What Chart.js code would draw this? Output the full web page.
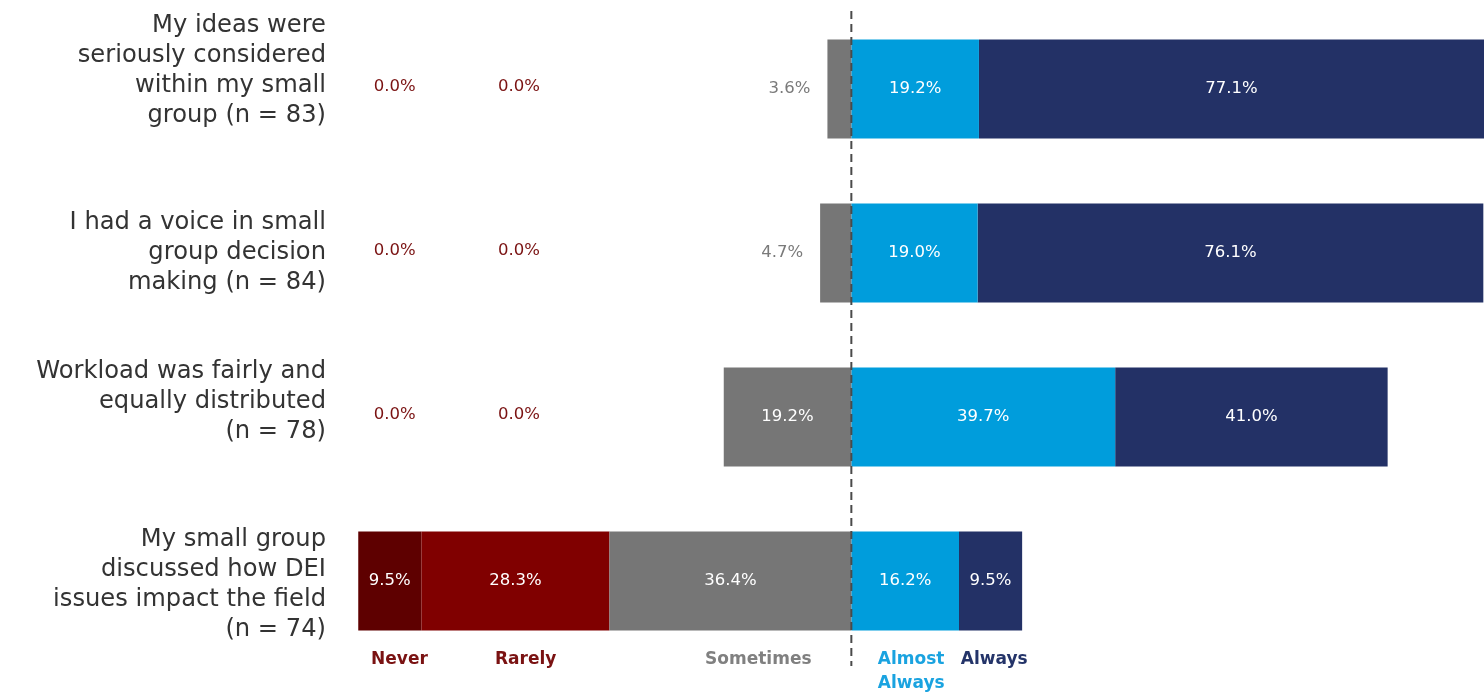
<!DOCTYPE html>
<html>
<head>
<meta charset="utf-8">
<script src="https://cdn.jsdelivr.net/npm/chart.js@4.4.1/dist/chart.umd.min.js"></script>
<style>
  html, body { margin: 0; padding: 0; background: #fff; }
</style>
</head>
<body>
<canvas id="groupChart" width="1484" height="694"></canvas>
<script>
// survey items (one row each) and the share of answers per response
const questions = [
  ['My ideas were', 'seriously considered', 'within my small', 'group (n = 83)'],
  ['I had a voice in small', 'group decision', 'making (n = 84)'],
  ['Workload was fairly and', 'equally distributed', '(n = 78)'],
  ['My small group', 'discussed how DEI', 'issues impact the field', '(n = 74)']
];
const responses = ['Never', 'Rarely', 'Sometimes', 'Almost Always', 'Always'];
const never = [0.0, 0.0, 0.0, 9.5];
const rarely = [0.0, 0.0, 0.0, 28.3];
const sometimes = [3.6, 4.7, 19.2, 36.4];
const almostAlways = [19.2, 19.0, 39.7, 16.2];
const always = [77.1, 76.1, 41.0, 9.5];

const colors = {
  'Never': '#5e0000',
  'Rarely': '#800000',
  'Sometimes': '#767676',
  'Almost Always': '#009ddc',
  'Always': '#233166'
};
const legendColors = {
  'Never': '#7a1212',
  'Rarely': '#7a1212',
  'Sometimes': '#808080',
  'Almost Always': '#1aa3e0',
  'Always': '#243469'
};

const FONT = '"DejaVu Sans", sans-serif';

// negative side stacks outward from zero: Sometimes, then Rarely, then Never
function ds(name, values, sign) {
  return {
    label: name,
    data: values.map(v => sign * v),
    backgroundColor: colors[name],
    borderWidth: 0,
    barPercentage: 0.604,
    categoryPercentage: 1
  };
}

const labelPlugin = {
  id: 'divergingLabels',
  afterDatasetsDraw(chart) {
    const ctx = chart.ctx;
    const x = chart.scales.x;
    const area = chart.chartArea;
    const zeroX = x.getPixelForValue(0);

    // value labels on the segments
    ctx.save();
    ctx.font = '16.5px ' + FONT;
    ctx.textBaseline = 'middle';
    chart.data.datasets.forEach((d, di) => {
      const meta = chart.getDatasetMeta(di);
      meta.data.forEach((bar, i) => {
        const v = Math.abs(d.data[i]);
        const txt = v.toFixed(1) + '%';
        if (v === 0) {
          // empty response columns get a red 0.0% at a fixed column
          const col = d.label === 'Never' ? -68.7 : -50;
          ctx.fillStyle = '#7a1212';
          ctx.textAlign = 'center';
          ctx.fillText(txt, x.getPixelForValue(col), bar.y - 2);
        } else if (v < 6) {
          ctx.fillStyle = '#7a7a7a';
          ctx.textAlign = 'center';
          ctx.fillText(txt, Math.min(bar.x, bar.base) - 38, bar.y);
        } else {
          const l = Math.max(Math.min(bar.x, bar.base), area.left);
          const r = Math.min(Math.max(bar.x, bar.base), area.right);
          ctx.fillStyle = '#ffffff';
          ctx.textAlign = 'center';
          ctx.fillText(txt, (l + r) / 2, bar.y);
        }
      });
    });
    ctx.restore();

    // dashed zero line
    ctx.save();
    ctx.strokeStyle = '#4a4a4a';
    ctx.lineWidth = 2;
    ctx.setLineDash([8, 5]);
    ctx.beginPath();
    ctx.moveTo(zeroX, 11);
    ctx.lineTo(zeroX, 666);
    ctx.stroke();
    ctx.restore();

    // question labels, right aligned beside the bars
    const nudge = [-18, 0, -15, 4];
    const yScale = chart.scales.y;
    ctx.save();
    ctx.font = '24.2px ' + FONT;
    ctx.fillStyle = '#333333';
    ctx.textAlign = 'right';
    ctx.textBaseline = 'middle';
    questions.forEach((lines, i) => {
      const cy = yScale.getPixelForValue(i) + nudge[i];
      const top = cy - (lines.length - 1) * 30 / 2;
      lines.forEach((ln, j) => ctx.fillText(ln, 326, top + j * 30));
    });
    ctx.restore();

    // response names under the columns
    const legendAt = { 'Never': -68, 'Rarely': -49, 'Sometimes': -14, 'Almost Always': 9, 'Always': 21.5 };
    ctx.save();
    ctx.font = 'bold 17px ' + FONT;
    ctx.textAlign = 'center';
    ctx.textBaseline = 'middle';
    responses.forEach(name => {
      ctx.fillStyle = legendColors[name];
      const px = x.getPixelForValue(legendAt[name]);
      const parts = name === 'Almost Always' ? ['Almost', 'Always'] : [name];
      parts.forEach((p, j) => ctx.fillText(p, px, 660 + j * 24));
    });
    ctx.restore();
  }
};

new Chart(document.getElementById('groupChart').getContext('2d'), {
  type: 'bar',
  data: {
    labels: questions.map(q => q.join(' ')),
    datasets: [
      ds('Sometimes', sometimes, -1),
      ds('Rarely', rarely, -1),
      ds('Never', never, -1),
      ds('Almost Always', almostAlways, 1),
      ds('Always', always, 1)
    ]
  },
  options: {
    indexAxis: 'y',
    responsive: false,
    animation: false,
    layout: { padding: { left: 333, right: 0, top: 7, bottom: 31 } },
    scales: {
      x: { stacked: true, min: -78, max: 95.2, display: false },
      y: { stacked: true, display: false }
    },
    plugins: {
      legend: { display: false },
      tooltip: { enabled: false }
    }
  },
  plugins: [labelPlugin]
});
</script>
</body>
</html>
